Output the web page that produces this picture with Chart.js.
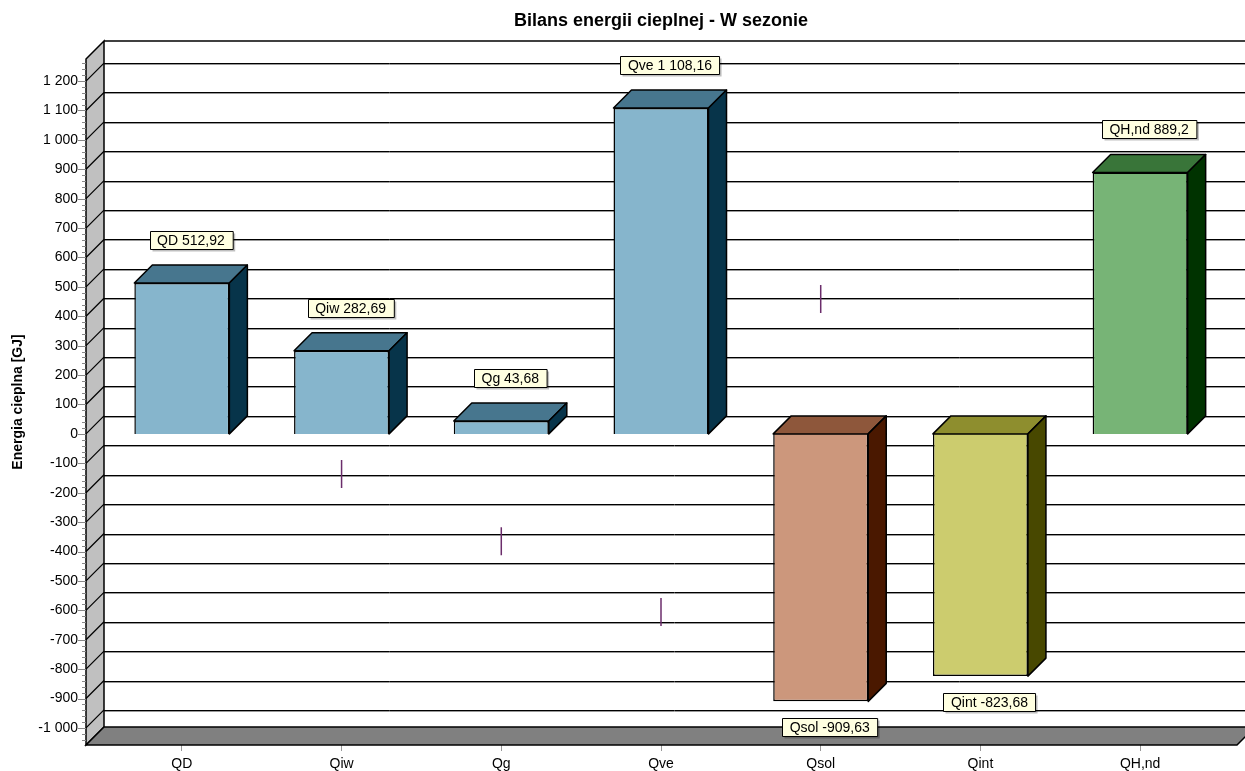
<!DOCTYPE html>
<html>
<head>
<meta charset="utf-8">
<script src="https://cdn.jsdelivr.net/npm/chart.js@4/dist/chart.umd.min.js"></script>
<style>
  body { margin: 0; background: #fff; overflow: hidden; }
  canvas { display: block; }
</style>
</head>
<body>
<canvas id="chart" width="1245" height="771"></canvas>
<script>
const categories = ["QD", "Qiw", "Qg", "Qve", "Qsol", "Qint", "QH,nd"];
const values = [512.92, 282.69, 43.68, 1108.16, -909.63, -823.68, 889.2];
const markers = [null, -136, -365, -606, 459, null, null];
const yMin = -1058;
const yMax = 1275;

// front / top / side colours per bar
const frontColors = ["#86B5CC", "#86B5CC", "#86B5CC", "#86B5CC", "#CC977C", "#CCCC6E", "#77B476"];
const topColors = ["#47768E", "#47768E", "#47768E", "#47768E", "#8E573B", "#8E8E2E", "#397539"];
const sideColors = ["#07344A", "#07344A", "#07344A", "#07344A", "#4A1800", "#484800", "#003300"];

const D = 18; // depth of the 3d effect
const FONT = "'Liberation Sans', Arial, sans-serif";

function fmt(v) {
  const neg = v < 0;
  const parts = Math.abs(v).toString().split(".");
  const int = parts[0].replace(/\B(?=(\d{3})+(?!\d))/g, " ");
  return (neg ? "-" : "") + int + (parts[1] ? "," + parts[1] : "");
}

const threeD = {
  id: "threeD",
  beforeDatasetsDraw(chart) {
    const { ctx, chartArea: a, scales: { y } } = chart;
    const wx = a.left - 16;       // front edge of the left wall
    const bx = wx + D;            // back wall left
    const fr = a.right + 17;      // front right of floor
    const W = chart.width;
    const top = y.getPixelForValue(yMax);
    const bot = y.getPixelForValue(yMin);

    ctx.save();
    // back wall grid lines
    for (let v = -1000; v <= 1200; v += 100) {
      const py = Math.round(y.getPixelForValue(v) - D) + 0.5;
      ctx.strokeStyle = "#999";
      ctx.lineWidth = 1;
      ctx.beginPath(); ctx.moveTo(bx, py + 1); ctx.lineTo(W, py + 1); ctx.stroke();
      ctx.strokeStyle = "#000";
      ctx.beginPath(); ctx.moveTo(bx, py); ctx.lineTo(W, py); ctx.stroke();
    }
    ctx.strokeStyle = "#000";
    ctx.lineWidth = 1.5;
    ctx.beginPath(); ctx.moveTo(bx, top - D); ctx.lineTo(W, top - D); ctx.stroke();

    // left wall
    ctx.fillStyle = "#C0C0C0";
    ctx.beginPath();
    ctx.moveTo(wx, top); ctx.lineTo(bx, top - D); ctx.lineTo(bx, bot - D); ctx.lineTo(wx, bot);
    ctx.closePath(); ctx.fill(); ctx.stroke();
    ctx.lineWidth = 1.2;
    for (let v = -1000; v <= 1200; v += 100) {
      const py = y.getPixelForValue(v);
      ctx.beginPath(); ctx.moveTo(wx, py); ctx.lineTo(bx, py - D); ctx.stroke();
    }

    // floor
    ctx.fillStyle = "#808080";
    ctx.lineWidth = 1.5;
    ctx.beginPath();
    ctx.moveTo(wx, bot); ctx.lineTo(fr, bot); ctx.lineTo(fr + D, bot - D); ctx.lineTo(bx, bot - D);
    ctx.closePath(); ctx.fill(); ctx.stroke();

    // y tick marks
    ctx.strokeStyle = "#888";
    ctx.lineWidth = 1;
    for (let v = -1040; v <= 1260; v += 20) {
      const py = Math.round(y.getPixelForValue(v)) + 0.5;
      const len = v % 100 === 0 ? 8 : 4;
      ctx.beginPath(); ctx.moveTo(wx - len, py); ctx.lineTo(wx, py); ctx.stroke();
    }
    ctx.restore();
  },
  afterDatasetsDraw(chart) {
    const { ctx } = chart;
    const meta = chart.getDatasetMeta(0);
    ctx.save();
    ctx.strokeStyle = "#000";
    ctx.lineWidth = 1.5;
    ctx.lineJoin = "round";
    meta.data.forEach((bar, i) => {
      const { x, y, base, width } = bar.getProps(["x", "y", "base", "width"], true);
      const L = x - width / 2, R = x + width / 2;
      const t = Math.min(y, base), b = Math.max(y, base);
      // top face
      ctx.fillStyle = topColors[i];
      ctx.beginPath();
      ctx.moveTo(L, t); ctx.lineTo(R, t); ctx.lineTo(R + D, t - D); ctx.lineTo(L + D, t - D);
      ctx.closePath(); ctx.fill(); ctx.stroke();
      // side face
      ctx.fillStyle = sideColors[i];
      ctx.beginPath();
      ctx.moveTo(R, t); ctx.lineTo(R + D, t - D); ctx.lineTo(R + D, b - D); ctx.lineTo(R, b);
      ctx.closePath(); ctx.fill(); ctx.stroke();
    });

    // value labels
    ctx.font = "14px " + FONT;
    ctx.textAlign = "center";
    ctx.textBaseline = "middle";
    meta.data.forEach((bar, i) => {
      const { x, y, base } = bar.getProps(["x", "y", "base"], true);
      const v = values[i];
      const text = categories[i] + " " + fmt(v);
      const cx = x + D / 2;
      const cy = v >= 0 ? Math.min(y, base) - D - 25 : Math.max(y, base) + 26;
      const w = ctx.measureText(text).width + 15;
      const h = 18;
      const lx = Math.round(cx - w / 2) + 0.5, ly = Math.round(cy - h / 2) + 0.5;
      ctx.fillStyle = "rgba(0,0,0,0.25)";
      ctx.fillRect(lx + 2, ly + 2, w, h);
      ctx.fillStyle = "#FFFFE1";
      ctx.fillRect(lx, ly, w, h);
      ctx.lineWidth = 1;
      ctx.strokeStyle = "#000";
      ctx.strokeRect(lx, ly, w, h);
      ctx.fillStyle = "#000";
      ctx.fillText(text, cx, cy + 1);
    });
    ctx.restore();
  }
};

new Chart(document.getElementById("chart"), {
  data: {
    labels: categories,
    datasets: [
      {
        type: "bar",
        data: values,
        backgroundColor: frontColors,
        borderColor: "#000",
        borderWidth: 1.5,
        barPercentage: 0.595,
        categoryPercentage: 1.0
      },
      {
        type: "line",
        data: markers,
        showLine: false,
        pointStyle: "line",
        rotation: 90,
        radius: 14,
        borderWidth: 1.5,
        borderColor: "#6B2D6B",
        pointBorderColor: "#6B2D6B"
      }
    ]
  },
  options: {
    responsive: false,
    animation: false,
    devicePixelRatio: 1,
    layout: { padding: { right: 25 }, autoPadding: false },
    plugins: {
      legend: { display: false },
      tooltip: { enabled: false },
      title: {
        display: true,
        text: "Bilans energii cieplnej - W sezonie",
        fullSize: false,
        color: "#000",
        font: { family: FONT, size: 18, weight: "bold" },
        padding: { top: 10, bottom: 27.4 }
      }
    },
    scales: {
      x: {
        grid: { drawOnChartArea: false, drawTicks: true, tickLength: 6, color: "#999", offset: false },
        border: { display: false },
        ticks: { color: "#000", font: { family: FONT, size: 14 }, padding: 5 },
        afterFit(scale) { scale.height = 26; }
      },
      y: {
        min: yMin,
        max: yMax,
        grid: { display: false, drawTicks: true, tickLength: 18 },
        border: { display: false },
        ticks: {
          stepSize: 100,
          includeBounds: false,
          color: "#000",
          font: { family: FONT, size: 14 },
          padding: 6,
          callback: (v) => fmt(v)
        },
        title: {
          display: true,
          text: "Energia cieplna [GJ]",
          color: "#000",
          font: { family: FONT, size: 14, weight: "bold" },
          padding: { top: 10 }
        },
        afterFit(scale) { scale.width = 102; }
      }
    }
  },
  plugins: [threeD]
});
</script>
</body>
</html>
